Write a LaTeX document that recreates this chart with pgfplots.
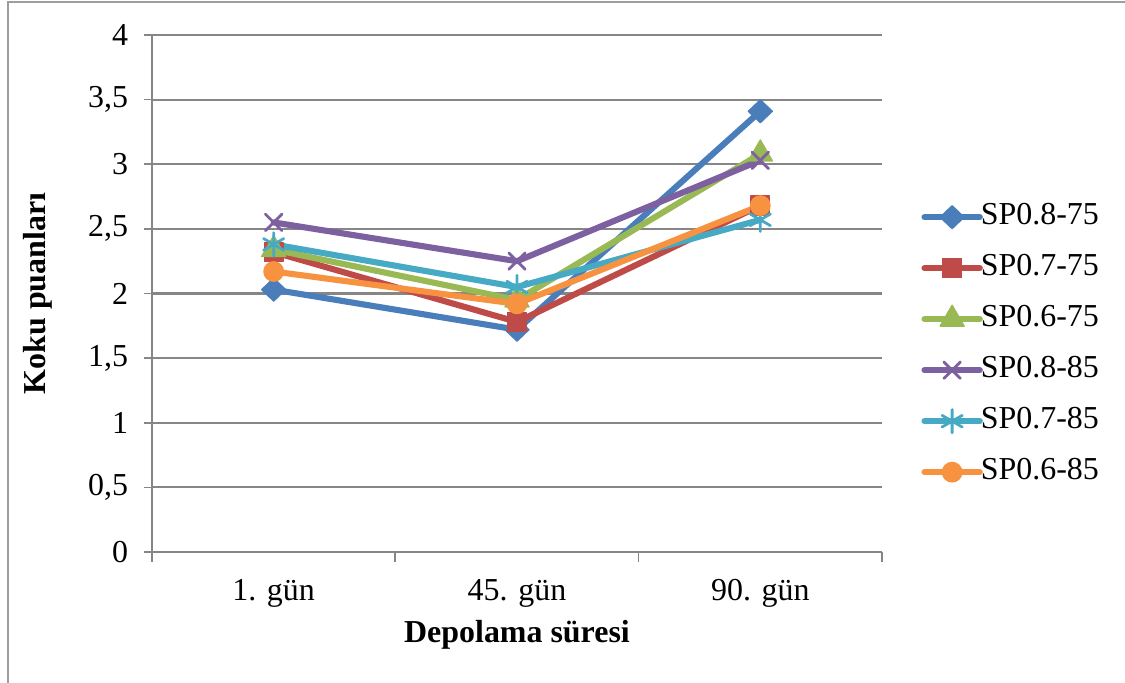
\documentclass[border=0pt]{standalone}
\usepackage{fontspec}
\setmainfont{Liberation Serif}
\usepackage{pgfplots}
\pgfplotsset{compat=1.18}

\definecolor{cBlue}{HTML}{4A7EBB}
\definecolor{cRed}{HTML}{BE4B48}
\definecolor{cGreen}{HTML}{98B954}
\definecolor{cPurple}{HTML}{7D60A0}
\definecolor{cTeal}{HTML}{46AAC5}
\definecolor{cOrange}{HTML}{F69240}
\definecolor{cGrid}{HTML}{868686}

\begin{document}
\fontsize{11.5}{13.8}\selectfont
\begin{tikzpicture}[x=1pt,y=1pt]
\useasboundingbox (-54.72,-47.16) rectangle (350.28,198.72);
\draw[line width=0.75pt, color=cGrid!80] (-51.84,-47.16) -- (-51.84,198.0) -- (350.28,198.0);
\begin{axis}[
  scale only axis,
  width=262.8pt, height=186.12pt,
  xmin=-0.5, xmax=2.5,
  ymin=0, ymax=4,
  axis lines*=left,
  axis line style={cGrid, line width=0.6pt, -},
  ymajorgrids,
  grid style={cGrid, line width=0.75pt},
  ytick={0,0.5,...,4},
  yticklabel style={/pgf/number format/use comma, /pgf/number format/assume math mode=true, xshift=-1.6pt},
  yticklabel={\pgfmathprintnumber[use comma]{\tick}},
  xtick={0,1,2},
  xticklabels={1. gün,45. gün,90. gün},
  major x tick style={draw=none},
  minor xtick={-0.5,0.5,1.5,2.5},
  tick align=outside,
  major tick length=3pt,
  minor tick length=3.5pt,
  tick style={cGrid, line width=0.6pt},
  xticklabel style={anchor=center, yshift=-12pt},
  xlabel={\textbf{Depolama süresi}},
  ylabel={\textbf{Koku puanları}},
  xlabel style={at={(axis description cs:0.5,0)}, anchor=center, yshift=-29.9pt},
  ylabel style={at={(axis description cs:-0.156,0.5)}, anchor=center},
  every axis plot/.append style={line width=2.2pt, line cap=round, line join=round},
  legend image code/.code={\draw[mark repeat=2, mark phase=2, #1] plot coordinates {(0pt,0pt) (9.95pt,0pt) (19.9pt,0pt)};},
  legend cell align=left,
  legend style={draw=none, fill=none, at={(1,0.401)}, anchor=west, xshift=14.2pt,
    inner sep=0pt, outer sep=0pt, row sep=6.86pt,
    nodes={inner sep=0.5pt, text height=8pt, text depth=2.5pt},
    /tikz/every even column/.append style={column sep=0pt},
    /tikz/every odd column/.append style={column sep=-1.2pt}},
]
\addplot[cBlue, mark=diamond*, mark size=4.1pt, mark options={solid, line width=0.5pt, xscale=1.4, fill=cBlue}]
  coordinates {(0,2.03) (1,1.72) (2,3.41)};
\addlegendentry{SP0.8-75}
\addplot[cRed, mark=square*, mark size=3.4pt, mark options={solid, line width=0.5pt, fill=cRed}]
  coordinates {(0,2.32) (1,1.78) (2,2.68)};
\addlegendentry{SP0.7-75}
\addplot[cGreen, mark=triangle*, mark size=5pt, mark options={solid, line width=0.5pt, fill=cGreen}]
  coordinates {(0,2.34) (1,1.95) (2,3.08)};
\addlegendentry{SP0.6-75}
\addplot[cPurple, mark=x, mark size=4.2pt, mark options={solid, line width=1pt}]
  coordinates {(0,2.55) (1,2.25) (2,3.03)};
\addlegendentry{SP0.8-85}
\addplot[cTeal, mark=asterisk, mark size=4.2pt, mark options={solid, line width=1pt}]
  coordinates {(0,2.38) (1,2.05) (2,2.57)};
\addlegendentry{SP0.7-85}
\addplot[cOrange, mark=*, mark size=3.5pt, mark options={solid, line width=0.5pt, fill=cOrange}]
  coordinates {(0,2.17) (1,1.92) (2,2.68)};
\addlegendentry{SP0.6-85}
\end{axis}
\end{tikzpicture}
\end{document}
